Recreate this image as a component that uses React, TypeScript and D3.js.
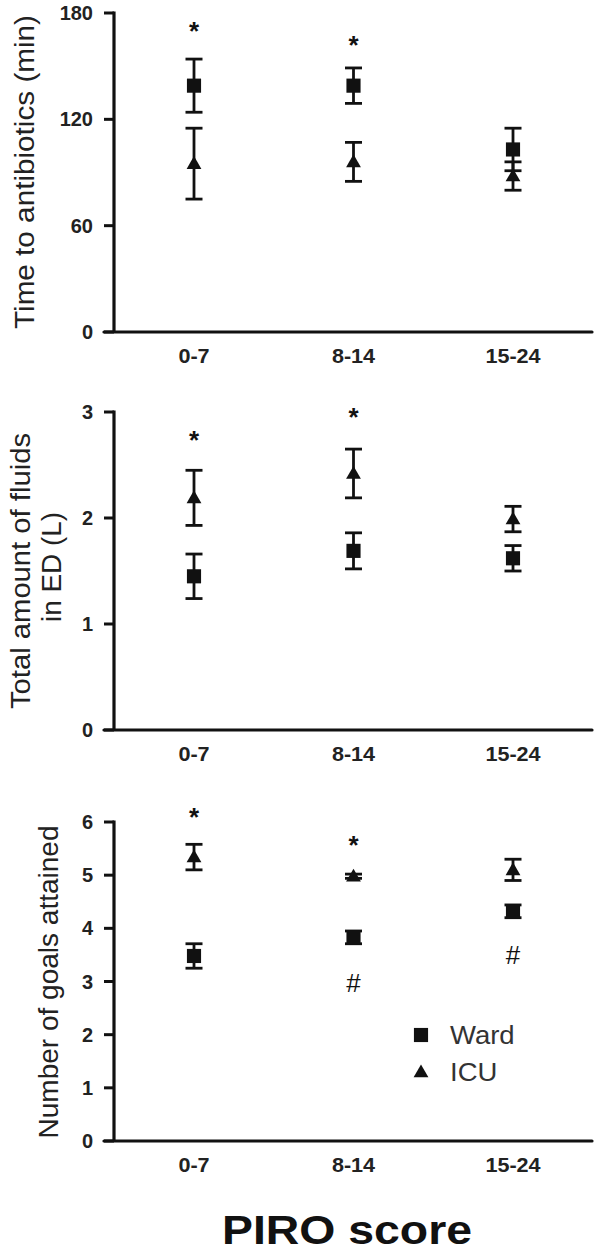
import * as d3 from "d3";

const WIDTH = 600;
const HEIGHT = 1253;
const AXIS_X = 114;
const AXIS_END = 592;
const INK = "#111";
const FONT = "'Liberation Sans', Arial, sans-serif";

const groups = ["0-7", "8-14", "15-24"];

const antibioticsWard = [139, 139, 103];
const antibioticsWardErr = [15, 10, 12];
const antibioticsIcu = [95, 96, 88];
const antibioticsIcuErr = [20, 11, 8];
const antibioticsTicks = [0, 60, 120, 180];
const antibioticsStars = [172.5, 165, null];

const fluidsWard = [1.45, 1.69, 1.62];
const fluidsWardErr = [0.21, 0.17, 0.12];
const fluidsIcu = [2.19, 2.42, 1.99];
const fluidsIcuErr = [0.26, 0.23, 0.12];
const fluidsTicks = [0, 1, 2, 3];
const fluidsStars = [2.78, 3.0, null];

const goalsWard = [3.48, 3.83, 4.32];
const goalsWardErr = [0.23, 0.12, 0.12];
const goalsIcu = [5.34, 4.98, 5.1];
const goalsIcuErr = [0.24, 0.04, 0.2];
const goalsTicks = [0, 1, 2, 3, 4, 5, 6];
const goalsStars = [6.18, 5.67, null];
const goalsHashes = [null, 2.98, 3.5];

const legendLabels = ["Ward", "ICU"];

type Panel = {
  title: string[];
  titleX: number[];
  titleY: number[];
  titleLength: number[];
  ticks: number[];
  range: [number, number];
  ward: number[];
  wardErr: number[];
  icu: number[];
  icuErr: number[];
  stars: (number | null)[];
  hashes?: (number | null)[];
};

const panels: Panel[] = [
  {
    title: ["Time to antibiotics (min)"],
    titleX: [34],
    titleY: [172],
    titleLength: [314],
    ticks: antibioticsTicks,
    range: [332, 13],
    ward: antibioticsWard,
    wardErr: antibioticsWardErr,
    icu: antibioticsIcu,
    icuErr: antibioticsIcuErr,
    stars: antibioticsStars
  },
  {
    title: ["Total amount of fluids", "in ED (L)"],
    titleX: [30, 61],
    titleY: [571, 567],
    titleLength: [276, 110],
    ticks: fluidsTicks,
    range: [730, 412],
    ward: fluidsWard,
    wardErr: fluidsWardErr,
    icu: fluidsIcu,
    icuErr: fluidsIcuErr,
    stars: fluidsStars
  },
  {
    title: ["Number of goals attained"],
    titleX: [58],
    titleY: [982],
    titleLength: [313],
    ticks: goalsTicks,
    range: [1141, 822],
    ward: goalsWard,
    wardErr: goalsWardErr,
    icu: goalsIcu,
    icuErr: goalsIcuErr,
    stars: goalsStars,
    hashes: goalsHashes
  }
];

const x = d3.scalePoint<string>().domain(groups).range([194, 513]);
const square = d3.symbol(d3.symbolSquare, 200)() ?? "";
const triangle = d3.symbol(d3.symbolTriangle, 95)() ?? "";

function ErrorBar({ cx, y0, y1 }: { cx: number; y0: number; y1: number }) {
  const cap = 8.5;
  return (
    <g stroke={INK} strokeWidth={2.8}>
      <line x1={cx} x2={cx} y1={y0} y2={y1} />
      <line x1={cx - cap} x2={cx + cap} y1={y0} y2={y0} />
      <line x1={cx - cap} x2={cx + cap} y1={y1} y2={y1} />
    </g>
  );
}

function PanelView({ panel }: { panel: Panel }) {
  const max = panel.ticks[panel.ticks.length - 1];
  const y = d3.scaleLinear().domain([0, max]).range(panel.range);
  const bottom = y(0);

  return (
    <g>
      {panel.title.map((line, i) => (
        <text
          key={line}
          transform={`translate(${panel.titleX[i]},${panel.titleY[i]}) rotate(-90)`}
          textAnchor="middle"
          fontSize={27}
          fill="#222"
          textLength={panel.titleLength[i]}
          lengthAdjust="spacingAndGlyphs"
        >
          {line}
        </text>
      ))}

      {panel.ticks.map((t) => (
        <g key={t}>
          <line x1={AXIS_X - 10} x2={AXIS_X} y1={y(t)} y2={y(t)} stroke={INK} strokeWidth={3} />
          <text
            x={AXIS_X - 21}
            y={y(t)}
            textAnchor="end"
            dominantBaseline="central"
            fontSize={20}
            fontWeight="bold"
            fill="#222"
          >
            {t}
          </text>
        </g>
      ))}

      <line x1={AXIS_X} x2={AXIS_X} y1={y(max) - 1.5} y2={bottom} stroke={INK} strokeWidth={3.2} />
      <line x1={AXIS_X - 10} x2={AXIS_END} y1={bottom} y2={bottom} stroke={INK} strokeWidth={3.2} strokeLinecap="round" />

      {groups.map((g) => (
        <text
          key={g}
          transform={`translate(${x(g)},${bottom + 31}) scale(1.08,1)`}
          textAnchor="middle"
          fontSize={20}
          fontWeight="bold"
          fill="#222"
        >
          {g}
        </text>
      ))}

      {groups.map((g, i) => {
        const cx = x(g) ?? 0;
        return (
          <g key={g}>
            <ErrorBar cx={cx} y0={y(panel.ward[i] + panel.wardErr[i])} y1={y(panel.ward[i] - panel.wardErr[i])} />
            <ErrorBar cx={cx} y0={y(panel.icu[i] + panel.icuErr[i])} y1={y(panel.icu[i] - panel.icuErr[i])} />
            <path d={square} transform={`translate(${cx},${y(panel.ward[i])})`} fill={INK} />
            <path d={triangle} transform={`translate(${cx},${y(panel.icu[i]) + 1})`} fill={INK} />
            {panel.stars[i] != null && (
              <text
                x={cx}
                y={y(panel.stars[i] as number) + 14}
                textAnchor="middle"
                fontSize={26}
                fontWeight="bold"
                fill={INK}
              >
                *
              </text>
            )}
            {panel.hashes && panel.hashes[i] != null && (
              <text
                x={cx}
                y={y(panel.hashes[i] as number) + 9}
                textAnchor="middle"
                fontSize={26}
                fill={INK}
              >
                #
              </text>
            )}
          </g>
        );
      })}
    </g>
  );
}

export default function App() {
  const legendY = d3.scaleLinear().domain([0, 1]).range([1035, 1072]);

  return (
    <svg
      width={WIDTH}
      height={HEIGHT}
      viewBox={`0 0 ${WIDTH} ${HEIGHT}`}
      style={{ position: "absolute", left: 0, top: 0, background: "#fff" }}
      fontFamily={FONT}
    >
      <rect width={WIDTH} height={HEIGHT} fill="#fff" />
      {panels.map((p) => (
        <PanelView key={p.title[0]} panel={p} />
      ))}

      {legendLabels.map((label, i) => (
        <g key={label} transform={`translate(421,${legendY(i)})`}>
          <path d={i === 0 ? square : triangle} fill={INK} transform={i === 1 ? "translate(0,1)" : undefined} />
          <text
            transform="translate(29,0) scale(1.1,1)"
            dominantBaseline="central"
            fontSize={25}
            fill="#333"
          >
            {label}
          </text>
        </g>
      ))}

      <text
        transform="translate(347,1244) scale(1.16,1)"
        textAnchor="middle"
        fontSize={40}
        fontWeight="bold"
        fill={INK}
      >
        PIRO score
      </text>
    </svg>
  );
}
